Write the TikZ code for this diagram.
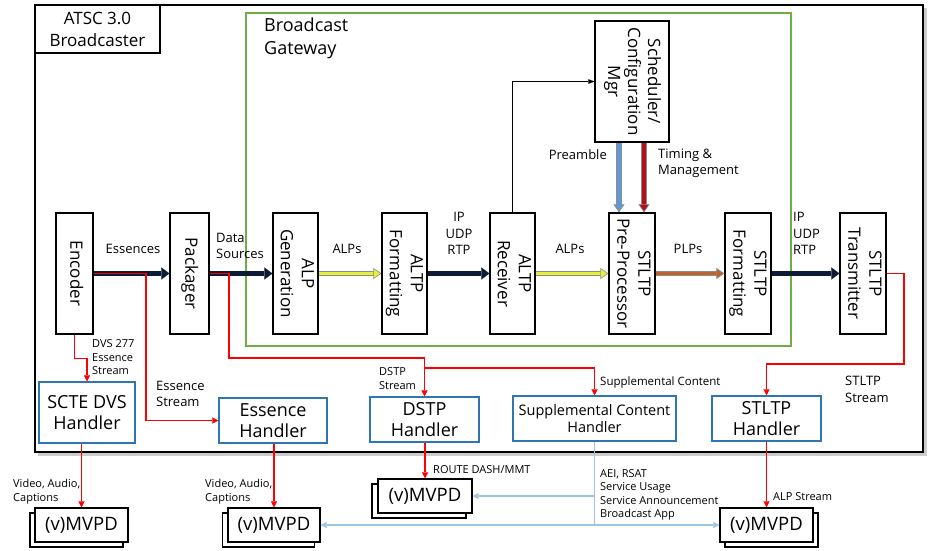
\documentclass[tikz,border=0pt]{standalone}
\usepackage{fontspec}
\setmainfont{Open Sans}
\usetikzlibrary{arrows.meta}
\definecolor{navyc}{HTML}{0D1B36}
\definecolor{redc}{HTML}{FF0000}
\definecolor{ltblue}{HTML}{9DC3E6}
\definecolor{hblue}{HTML}{2E75B6}
\definecolor{ggreen}{HTML}{70AD47}
\definecolor{yelc}{HTML}{E6F03C}
\definecolor{plpc}{HTML}{C0622E}
\definecolor{prebl}{HTML}{5B9BD5}
\definecolor{timred}{HTML}{B0121B}
\definecolor{edgeg}{HTML}{8C8C8C}
\newcommand{\vtext}[1]{\rotatebox{-90}{\begin{tabular}{@{}c@{}}#1\end{tabular}}}
\begin{document}
\begin{tikzpicture}[x=1pt,y=-1pt,
  blk/.style={draw, line width=1.3pt, fill=white, inner sep=0pt, minimum height=121pt, font=\fontsize{17}{21}\selectfont},
  hnd/.style={draw=hblue, line width=1.3pt, fill=white, inner sep=0pt, align=center, minimum height=45pt, font=\fontsize{18}{21}\selectfont},
  mv/.style={draw, line width=1.3pt, fill=white, inner sep=0pt, minimum width=93pt, minimum height=34pt, font=\fontsize{18.5}{22}\selectfont},
  lblm/.style={font=\fontsize{13}{16.5}\selectfont, inner sep=0pt, align=left},
  lbls/.style={font=\fontsize{11}{13.5}\selectfont, inner sep=0pt, align=left},
  redarr/.style={draw=redc, line width=1.6pt, -{Triangle[length=6pt,width=6pt,line width=0.1pt]}},
  ltarr/.style={draw=ltblue, line width=1.3pt, -{Triangle[length=6pt,width=6pt,line width=0.1pt]}},
  thinarr/.style={draw=black, line width=0.8pt, -{Triangle[length=6pt,width=4.5pt,line width=0.1pt]}},
  navyarr/.style={draw=navyc, line width=5pt, -{Triangle[length=8pt,width=12pt,line width=0.1pt]}},
  fat/.style={line width=3.6pt, draw=#1, -{Triangle[length=8pt,width=11pt,fill=#1,color=edgeg,line width=0.6pt]},
    preaction={draw=edgeg, line width=5.2pt, shorten >=5pt, arrows={-}}}
]
\useasboundingbox (0,0) rectangle (936,550);

% outer container
\fill[gray!40] (38,8) rectangle (927,456);
\node[draw, line width=1.6pt, fill=white, minimum width=888pt, minimum height=447pt, inner sep=0pt] (atsc) at (479,228.5) {};
\node[draw, line width=1.3pt, fill=white, minimum width=125pt, minimum height=48pt, inner sep=0pt, align=center,
  font=\fontsize{17}{22}\selectfont] (atscl) at (97.5,29) {ATSC 3.0\\Broadcaster};

% gateway
\node[draw=ggreen, line width=1.3pt, minimum width=545pt, minimum height=333pt, inner sep=0pt] (gw) at (518.5,179.5) {};
\node[anchor=west, align=left, inner sep=0pt, font=\fontsize{18}{23}\selectfont] (gwl) at (264,38.5) {Broadcast\\Gateway};

% blocks
\node[blk, minimum width=37pt] (enc) at (74.5,273.5) {\vtext{Encoder}};
\node[blk, minimum width=39pt] (pkg) at (189.5,273.5) {\vtext{Packager}};
\node[blk, minimum width=45pt] (alpg) at (295.5,273.5) {\vtext{ALP\\Generation}};
\node[blk, minimum width=45pt] (altpf) at (404.5,273.5) {\vtext{ALTP\\Formatting}};
\node[blk, minimum width=45pt] (altpr) at (512.5,273.5) {\vtext{ALTP\\Receiver}};
\node[blk, minimum width=46pt] (stp) at (632,273.5) {\vtext{STLTP\\Pre-Processor}};
\node[blk, minimum width=46pt] (stf) at (748,273.5) {\vtext{STLTP\\Formatting}};
\node[blk, minimum width=46pt] (stt) at (863,273.5) {\vtext{STLTP\\Transmitter}};
\node[blk, minimum width=74pt, font=\fontsize{17}{20}\selectfont] (sched) at (632,81.5) {\vtext{Scheduler/\\Configuration\\Mgr}};

% handlers
\node[hnd, minimum width=96pt, minimum height=61pt] (scte) at (87,412.5) {SCTE DVS\\Handler};
\node[hnd, minimum width=108pt] (essh) at (273,420.5) {Essence\\Handler};
\node[hnd, minimum width=109pt] (dstph) at (424.5,419.5) {DSTP\\Handler};
\node[hnd, minimum width=163pt, font=\fontsize{14.5}{17.5}\selectfont] (supph) at (594.5,418.5) {Supplemental Content\\Handler};
\node[hnd, minimum width=109pt] (stlh) at (766.5,418.5) {STLTP\\Handler};

% MVPDs
\node[mv] (mv1b) at (76.5,530) {};
\node[mv] (mv1) at (81.5,525) {(v)MVPD};
\node[mv, minimum width=92pt] (mv2b) at (268.5,530) {};
\node[mv, minimum width=92pt] (mv2) at (274,525) {(v)MVPD};
\node[mv, minimum width=94pt] (mv3b) at (419,501) {};
\node[mv, minimum width=94pt] (mv3) at (425,496) {(v)MVPD};
\node[mv] (mv4b) at (771.5,530) {};
\node[mv] (mv4) at (766.5,525) {(v)MVPD};

% main chain arrows
\draw[navyarr] (enc.east) -- (pkg.west);
\draw[navyarr] (pkg.east) -- (alpg.west);
\draw[fat=yelc] (alpg.east) -- (altpf.west);
\draw[navyarr] (altpf.east) -- (altpr.west);
\draw[fat=yelc] (altpr.east) -- (stp.west);
\draw[fat=plpc] (stp.east) -- (stf.west);
\draw[navyarr] (stf.east) -- (stt.west);

% scheduler links
\draw[thinarr] (altpr.north) |- (sched.west);
\draw[fat=prebl] ([xshift=-13pt]sched.south) -- ([xshift=-13pt]stp.north);
\draw[fat=timred] ([xshift=12pt]sched.south) -- ([xshift=12pt]stp.north);

% red streams
\coordinate (b1) at (146,273.5);
\coordinate (b2) at (229,273.5);
\coordinate (b3) at (229,358);
\coordinate (b4) at (424.5,368);
\coordinate (b6) at (904,273.5);
\coordinate (b7) at (904,364);
\draw[redarr] (enc.east) -- (b1) |- (essh.west);
\draw[redarr] (pkg.east) -- (b2) -- (b3) -| (dstph.north);
\draw[redarr] (b4) -| (supph.north);
\draw[redarr] (enc.south) -- ++(0,24) -| (scte.north);
\draw[redarr] (stt.east) -- (b6) -- (b7) -| (stlh.north);

\draw[redarr] (scte.south -| mv1.north) -- (mv1.north);
\draw[redarr] (essh.south -| mv2.north) -- (mv2.north);
\draw[redarr] (dstph.south -| mv3.north) -- (mv3.north);
\draw[redarr] (stlh.south -| mv4.north) -- (mv4.north);

% light blue distribution
\draw[draw=ltblue, line width=1.3pt] (supph.south) -- (supph.south |- mv2.east);
\draw[ltarr] (supph.south |- mv3.east) -- (mv3.east);
\draw[ltarr] (supph.south |- mv2.east) -- (mv2.east);
\draw[ltarr] (supph.south |- mv4.west) -- (mv4.west);

% labels
\node[lblm] (l1) at (133,249) {Essences};
\node[lblm, anchor=west] (l2) at (216,246) {Data\\Sources};
\node[lblm] (l3) at (347,249) {ALPs};
\node[lblm, align=center] (l4) at (459,233.5) {IP\\UDP\\RTP};
\node[lblm] (l5) at (570,249) {ALPs};
\node[lblm] (l6) at (688,249) {PLPs};
\node[lblm, anchor=west] (l7) at (793,233.5) {IP\\UDP\\RTP};
\node[lblm, anchor=east] (l8) at (607,155) {Preamble};
\node[lblm, anchor=west] (l9) at (658,163.5) {Timing \&\\Management};
\node[lbls, anchor=west] (l10) at (92,357.5) {DVS 277\\Essence\\Stream};
\node[lblm, anchor=west] (l11) at (156,394) {Essence\\Stream};
\node[lbls, anchor=west] (l12) at (379,378.5) {DSTP\\Stream};
\node[lbls, anchor=west, font=\fontsize{11.5}{14}\selectfont] (l13) at (600,383) {Supplemental Content};
\node[lblm, anchor=west] (l14) at (845,389.5) {STLTP\\Stream};
\node[lbls, anchor=west] (l15) at (13,491.5) {Video, Audio,\\Captions};
\node[lbls, anchor=west] (l16) at (205,491.5) {Video, Audio,\\Captions};
\node[lbls, anchor=west] (l17) at (433,470) {ROUTE DASH/MMT};
\node[lbls, anchor=west] (l18) at (600,495) {AEI, RSAT\\Service Usage\\Service Announcement\\Broadcast App};
\node[lbls, anchor=west] (l19) at (773,497) {ALP Stream};
\end{tikzpicture}
\end{document}
